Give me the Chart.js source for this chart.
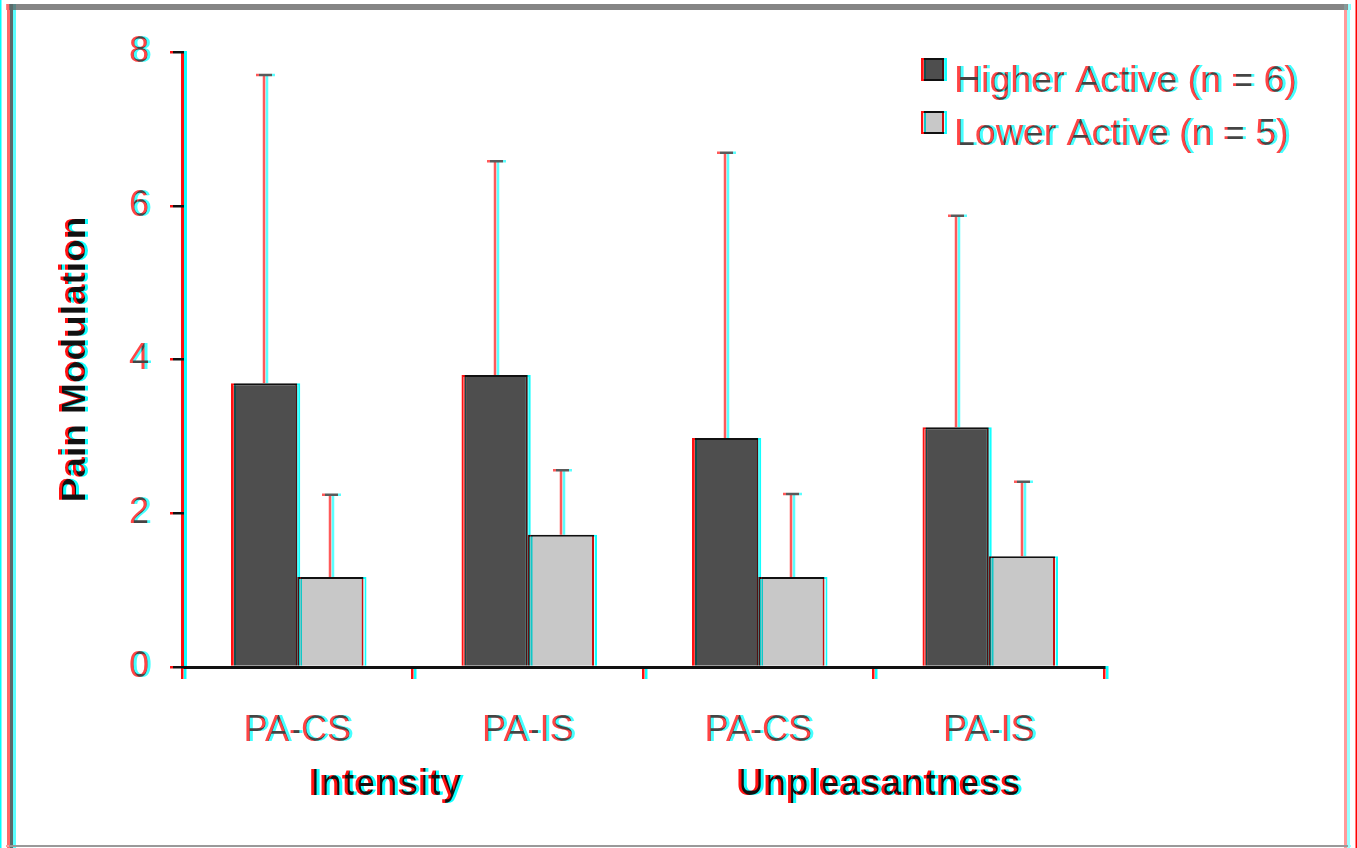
<!DOCTYPE html>
<html>
<head>
<meta charset="utf-8">
<title>Pain Modulation</title>
<script src="https://cdn.jsdelivr.net/npm/chart.js@4.4.1/dist/chart.umd.min.js"></script>
<style>
  html, body { margin: 0; padding: 0; background: #fff; overflow: hidden; }
  #wrap { width: 1357px; height: 848px; filter: url(#fringe); background: #fff; }
  canvas { display: block; }
</style>
</head>
<body>
<!-- slight red/cyan channel misregistration and softness, as in the printed figure -->
<svg width="0" height="0" style="position:absolute">
  <filter id="fringe" x="0" y="0" width="100%" height="100%" color-interpolation-filters="sRGB">
    <feColorMatrix in="SourceGraphic" type="matrix"
      values="1 0 0 0 0  0 0 0 0 0  0 0 0 0 0  0 0 0 1 0" result="red"/>
    <feOffset in="red" dx="1.5" dy="0" result="redS"/>
    <feColorMatrix in="SourceGraphic" type="matrix"
      values="0 0 0 0 0  0 1 0 0 0  0 0 1 0 0  0 0 0 1 0" result="cyan"/>
    <feOffset in="cyan" dx="-1.5" dy="0" result="cyanS"/>
    <feComposite in="redS" in2="cyanS" operator="arithmetic" k1="0" k2="1" k3="1" k4="0" result="merged"/>
    <feGaussianBlur in="merged" stdDeviation="0.5"/>
  </filter>
</svg>
<div id="wrap"><canvas id="chart" width="1357" height="848"></canvas></div>
<script>
// Conditions on the x axis and the rating each pair belongs to
const categories = ['PA-CS', 'PA-IS', 'PA-CS', 'PA-IS'];
const groupLabels = ['Intensity', 'Unpleasantness'];

// Mean pain modulation and upper error (SD) per group
const higherLabel = 'Higher Active (n = 6)';
const higherMeans = [3.69, 3.80, 2.98, 3.12];
const higherErr   = [4.01, 2.78, 3.71, 2.75];

const lowerLabel = 'Lower Active (n = 5)';
const lowerMeans = [1.17, 1.72, 1.17, 1.44];
const lowerErr   = [1.07, 0.84, 1.08, 0.97];

// Y axis ticks
const yTicks = [0, 2, 4, 6, 8];

Chart.defaults.font.family = '"Liberation Sans", Arial, sans-serif';

const TEXT = '#444';
const INK = '#111';

// White page with a thin frame around the figure
const framePlugin = {
  id: 'frame',
  beforeDraw(chart) {
    const c = chart.ctx;
    c.save();
    c.fillStyle = '#fff';
    c.fillRect(0, 0, chart.width, chart.height);
    c.fillStyle = '#858585';
    c.fillRect(7, 4, 1342, 6);      // top
    c.fillStyle = '#5a6a6a';
    c.fillRect(8, 4, 6, 844);       // left
    c.fillStyle = '#999';
    c.fillRect(1345, 4, 3, 844);    // right
    c.fillRect(7, 845, 1342, 2);    // bottom
    c.restore();
  }
};

// Upward error bars with caps, from each bar's own value
const errorBarPlugin = {
  id: 'errorBars',
  afterDatasetsDraw(chart, args, opts) {
    const c = chart.ctx;
    const y = chart.scales.y;
    const errs = [higherErr, lowerErr];
    c.save();
    c.strokeStyle = opts.color;
    c.lineWidth = 2.5;
    chart.data.datasets.forEach((ds, i) => {
      const meta = chart.getDatasetMeta(i);
      meta.data.forEach((bar, j) => {
        const top = y.getPixelForValue(ds.data[j] + errs[i][j]);
        const x = Math.round(bar.x);
        c.beginPath();
        c.moveTo(x, bar.y);
        c.lineTo(x, top);
        c.moveTo(x - 8, top);
        c.lineTo(x + 8, top);
        c.stroke();
      });
    });
    c.restore();
  }
};

// Rating names under each pair of conditions
const groupLabelPlugin = {
  id: 'groupLabels',
  afterDraw(chart, args, opts) {
    const c = chart.ctx;
    const x = chart.scales.x;
    c.save();
    c.font = 'bold 37px "Liberation Sans", Arial, sans-serif';
    c.fillStyle = INK;
    c.textAlign = 'center';
    c.textBaseline = 'alphabetic';
    groupLabels.forEach((t, i) => {
      c.fillText(t, x.getPixelForValue(opts.at[i]), opts.baseline);
    });
    c.restore();
  }
};

// Legend in the upper right corner of the plot
const boxLegendPlugin = {
  id: 'boxLegend',
  afterDraw(chart, args, opts) {
    const c = chart.ctx;
    c.save();
    c.font = '37.5px "Liberation Sans", Arial, sans-serif';
    c.textBaseline = 'alphabetic';
    c.textAlign = 'left';
    chart.data.datasets.forEach((ds, i) => {
      const by = opts.boxTop + i * opts.rowGap;
      c.fillStyle = ds.backgroundColor;
      c.fillRect(opts.boxX, by, 23, 23);
      c.strokeStyle = INK;
      c.lineWidth = 2;
      c.strokeRect(opts.boxX + 1, by + 1, 21, 21);
      c.fillStyle = TEXT;
      c.fillText(ds.label, opts.textX, opts.baseline + i * opts.rowGap);
    });
    c.restore();
  }
};

new Chart(document.getElementById('chart'), {
  type: 'bar',
  data: {
    labels: categories,
    datasets: [
      {
        label: higherLabel,
        data: higherMeans,
        backgroundColor: '#4e4e4e',
        borderColor: INK,
        borderWidth: 2,
        categoryPercentage: 0.575,
        barPercentage: 1.0
      },
      {
        label: lowerLabel,
        data: lowerMeans,
        backgroundColor: '#c8c8c8',
        borderColor: INK,
        borderWidth: 2,
        categoryPercentage: 0.575,
        barPercentage: 1.0
      }
    ]
  },
  options: {
    responsive: false,
    animation: false,
    devicePixelRatio: 1,
    layout: { padding: { left: 0, right: 252, top: 52, bottom: 0 } },
    plugins: {
      legend: { display: false },
      tooltip: { enabled: false },
      errorBars: { color: '#5a5a5a' },
      groupLabels: { at: [0.38, 2.52], baseline: 795 },
      boxLegend: { boxX: 922, boxTop: 58, textX: 955, baseline: 92, rowGap: 53 }
    },
    scales: {
      x: {
        offset: true,
        grid: { drawOnChartArea: false, tickLength: 12, color: INK, lineWidth: 2.5, offset: true },
        border: { color: INK, width: 3 },
        ticks: { font: { size: 36 }, color: TEXT, padding: 30, maxRotation: 0, autoSkip: false },
        afterFit(s) { s.height = 181; }
      },
      y: {
        min: 0,
        max: 8,
        afterBuildTicks(s) { s.ticks = yTicks.map(v => ({ value: v })); },
        grid: { drawOnChartArea: false, tickLength: 12, color: INK, lineWidth: 2.5 },
        border: { color: INK, width: 3 },
        ticks: { font: { size: 36 }, color: TEXT, padding: 21 },
        title: {
          display: true,
          text: 'Pain Modulation',
          color: INK,
          font: { size: 37, weight: 'bold' },
          padding: { top: 54, bottom: 0 }
        },
        afterFit(s) { s.width = 183; }
      }
    }
  },
  plugins: [framePlugin, errorBarPlugin, groupLabelPlugin, boxLegendPlugin]
});
</script>
</body>
</html>
